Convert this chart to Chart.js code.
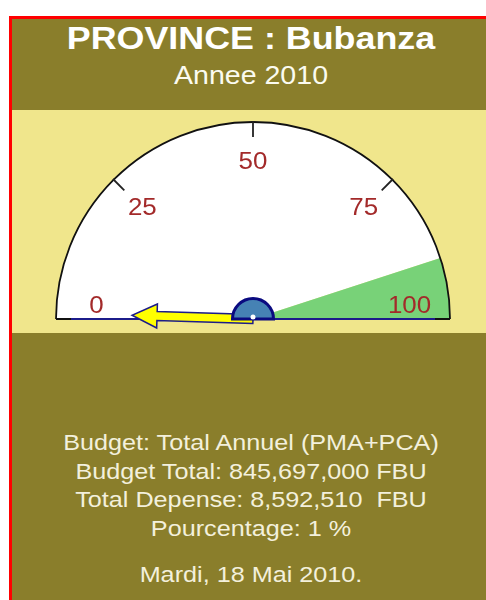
<!DOCTYPE html>
<html>
<head>
<meta charset="utf-8">
<script src="https://cdn.jsdelivr.net/npm/chart.js@4"></script>
<style>
    html, body {
        margin: 0;
        padding: 0;
        width: 486px;
        height: 600px;
        overflow: hidden;
        background: #ffffff;
        font-family: "Liberation Sans", Arial, sans-serif;
    }
    #panel {
        position: absolute;
        left: 9px;
        top: 16px;
        right: 0;
        bottom: 0;
        background: #8a7e2b;
        border-left: 3px solid #ff0000;
        border-top: 3px solid #ff0000;
    }
    #band {
        position: absolute;
        left: 12px;
        top: 110px;
        width: 474px;
        height: 223px;
        background: #f0e68c;
    }
    .txt {
        position: absolute;
        left: 0;
        width: 502px;
        text-align: center;
        white-space: pre;
        transform: scaleX(1.12);
        transform-origin: 251px 0;
    }
    #title {
        top: 20px;
        font-size: 32px;
        line-height: 36px;
        font-weight: bold;
        color: #ffffff;
    }
    #subtitle {
        top: 60px;
        font-size: 25.5px;
        line-height: 30px;
        color: #fbfbf0;
    }
    #info {
        top: 429px;
        font-size: 22.5px;
        line-height: 28.5px;
        color: #f3f0dc;
    }
    #date {
        top: 561px;
        font-size: 22.5px;
        line-height: 28px;
        color: #f3f0dc;
    }
</style>
</head>
<body>
<div id="panel"></div>
<div id="title" class="txt"></div>
<div id="subtitle" class="txt"></div>
<div id="band"><canvas id="gauge-chart"></canvas></div>
<div id="info" class="txt"></div>
<div id="date" class="txt"></div>

<script>
const provinceName = 'Bubanza';
const yearLabel = 2010;
const gaugeMin = 0;
const gaugeMax = 100;
const bandEdges = [0, 90, 100];
const tickValues = [0, 25, 50, 75, 100];
const gaugeValue = 1;
const budgetTotal = 845697000;
const totalDepense = 8592510;
const pourcentage = 1;
const dateLabel = 'Mardi, 18 Mai 2010.';

const fmt = n => n.toLocaleString('en-US');

document.getElementById('title').textContent = 'PROVINCE : ' + provinceName;
document.getElementById('subtitle').textContent = 'Annee ' + yearLabel;
document.getElementById('info').textContent = [
    'Budget: Total Annuel (PMA+PCA)',
    'Budget Total: ' + fmt(budgetTotal) + ' FBU',
    'Total Depense: ' + fmt(totalDepense) + '  FBU',
    'Pourcentage: ' + pourcentage + ' %',
].join('\n');
document.getElementById('date').textContent = dateLabel;

// band sizes for the doughnut slices
const bandSizes = bandEdges.slice(1).map((v, i) => v - bandEdges[i]);

function valueToAngle(v) {
    return Math.PI + (v - gaugeMin) / (gaugeMax - gaugeMin) * Math.PI;
}

const gaugeDecor = {
    id: 'gaugeDecor',
    afterDatasetsDraw(chart) {
        const ctx = chart.ctx;
        const arc = chart.getDatasetMeta(0).data[0];
        const cx = arc.x, cy = arc.y, r = arc.outerRadius;

        ctx.save();
        // outer rim
        ctx.strokeStyle = '#111111';
        ctx.lineWidth = 1.8;
        ctx.beginPath();
        ctx.arc(cx, cy, r, Math.PI, 2 * Math.PI);
        ctx.stroke();

        // base line
        ctx.strokeStyle = '#1c1c8a';
        ctx.lineWidth = 2;
        ctx.beginPath();
        ctx.moveTo(cx - r, cy);
        ctx.lineTo(cx + r, cy);
        ctx.stroke();
        ctx.strokeStyle = '#111111';
        ctx.beginPath();
        ctx.moveTo(cx - r, cy);
        ctx.lineTo(cx - r + 15, cy);
        ctx.moveTo(cx + r - 15, cy);
        ctx.lineTo(cx + r, cy);
        ctx.stroke();

        // ticks and labels
        tickValues.forEach(v => {
            const a = valueToAngle(v);
            const cos = Math.cos(a), sin = Math.sin(a);
            if (v !== gaugeMin && v !== gaugeMax) {
                ctx.strokeStyle = '#222222';
                ctx.lineWidth = 1.8;
                ctx.beginPath();
                ctx.moveTo(cx + cos * (r + 1), cy + sin * (r + 1));
                ctx.lineTo(cx + cos * (r - 15), cy + sin * (r - 15));
                ctx.stroke();
            }
            const lx = cx + cos * 156.5;
            const ly = Math.min(cy + sin * 156.5, cy - 13);
            ctx.save();
            ctx.translate(lx, ly);
            ctx.scale(1.08, 1);
            ctx.fillStyle = '#a32a2a';
            ctx.font = '24px "Liberation Sans", Arial, sans-serif';
            ctx.textAlign = 'center';
            ctx.textBaseline = 'middle';
            ctx.fillText(String(v), 0, 0);
            ctx.restore();
        });

        // needle
        const na = valueToAngle(gaugeValue);
        const len = 121, headLen = 25, headW = 12, shaftW = 4.5;
        ctx.save();
        ctx.translate(cx, cy);
        ctx.rotate(na);
        ctx.beginPath();
        ctx.moveTo(0, -shaftW);
        ctx.lineTo(len - headLen, -shaftW);
        ctx.lineTo(len - headLen, -headW);
        ctx.lineTo(len, 0);
        ctx.lineTo(len - headLen, headW);
        ctx.lineTo(len - headLen, shaftW);
        ctx.lineTo(0, shaftW);
        ctx.closePath();
        ctx.fillStyle = '#ffff00';
        ctx.fill();
        ctx.strokeStyle = '#1c1c8a';
        ctx.lineWidth = 1.5;
        ctx.stroke();
        ctx.restore();

        // hub
        ctx.beginPath();
        ctx.arc(cx, cy, 20.5, Math.PI, 2 * Math.PI);
        ctx.closePath();
        ctx.fillStyle = '#4682b4';
        ctx.fill();
        ctx.strokeStyle = '#0a0a80';
        ctx.lineWidth = 3;
        ctx.stroke();
        ctx.beginPath();
        ctx.arc(cx, cy - 2, 2.5, 0, 2 * Math.PI);
        ctx.fillStyle = '#ffffff';
        ctx.fill();
        ctx.restore();
    }
};

const canvas = document.getElementById('gauge-chart');
const gaugeChart = new Chart(canvas.getContext('2d'), {
    type: 'doughnut',
    data: {
        labels: ['0-90', '90-100'],
        datasets: [{
            data: bandSizes,
            backgroundColor: ['#ffffff', '#78d278'],
            borderWidth: 0,
            hoverOffset: 0,
        }]
    },
    options: {
        responsive: true,
        maintainAspectRatio: false,
        animation: false,
        events: [],
        rotation: -90,
        circumference: 180,
        cutout: 0,
        radius: 197,
        layout: {
            padding: { left: 8, right: 0, top: 0, bottom: 2 }
        },
        plugins: {
            legend: { display: false },
            tooltip: { enabled: false },
        }
    },
    plugins: [gaugeDecor]
});
</script>
</body>
</html>
